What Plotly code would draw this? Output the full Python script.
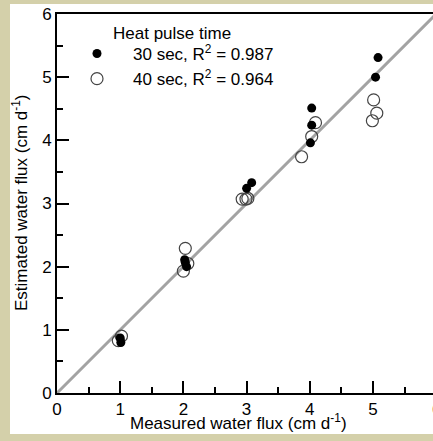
import plotly.graph_objects as go

# 30 sec (filled)
x30 = [1.00, 1.01, 2.02, 2.05, 2.03, 3.00, 3.08, 4.03, 4.03, 4.01, 5.08, 5.04]
y30 = [0.87, 0.80, 2.11, 2.00, 2.07, 3.24, 3.33, 4.51, 4.24, 3.96, 5.31, 5.00]
# 40 sec (open)
x40 = [0.97, 1.02, 2.03, 2.00, 2.07, 2.93, 2.99, 3.02, 3.87, 4.03, 4.09, 5.01, 5.06, 4.99]
y40 = [0.83, 0.90, 2.29, 1.93, 2.05, 3.07, 3.07, 3.08, 3.74, 4.06, 4.28, 4.64, 4.43, 4.31]
# 1:1 line
x11 = [0, 6]
y11 = [0, 6]

TAN = "#D4D0AA"
FONT = "Liberation Sans, Arial, sans-serif"
FS = 17

fig = go.Figure()
fig.add_trace(go.Scatter(x=x11, y=y11, mode="lines", line=dict(color="#A3A3A3", width=3),
                         showlegend=False, hoverinfo="skip"))
fig.add_trace(go.Scatter(x=x40, y=y40, mode="markers", name="40 sec, R<sup>2</sup> = 0.964",
                         marker=dict(symbol="circle-open", size=12, color="#444444", line=dict(width=1.2))))
fig.add_trace(go.Scatter(x=x30, y=y30, mode="markers", name="30 sec, R<sup>2</sup> = 0.987",
                         marker=dict(symbol="circle", size=9, color="black")))

W, H = 433, 441
L, R, T, B = 57, 0, 14, 48
pw, ph = W - L - R, H - T - B

def px2paper_x(px):
    return (px - L) / pw

def px2paper_y(py):
    return (H - B - py) / ph

tick_style = dict(tickmode="linear", tick0=0, dtick=1,
                  ticks="inside", ticklen=12, tickwidth=2, tickcolor="black",
                  showline=True, linecolor="black", linewidth=2,
                  showgrid=False, zeroline=False, tickfont=dict(size=FS),
                  minor=dict(tick0=0, dtick=0.5, ticks="inside", ticklen=6,
                             tickwidth=2, tickcolor="black", showgrid=False))

fig.update_layout(
    width=W, height=H,
    margin=dict(l=L, r=R, t=T, b=B),
    paper_bgcolor=TAN,
    plot_bgcolor="white",
    font=dict(family=FONT, size=FS, color="black"),
    showlegend=True,
    legend=dict(
        x=px2paper_x(61), y=px2paper_y(36), xanchor="left", yanchor="top",
        bgcolor="rgba(0,0,0,0)", traceorder="reversed",
        font=dict(size=FS), itemwidth=62, tracegroupgap=0,
    ),
    xaxis=dict(range=[0, pw / 63.2], mirror=True, **tick_style),
    yaxis=dict(range=[0, 6], mirror=False, **tick_style),
    shapes=[dict(type="rect", xref="paper", yref="paper", layer="below",
                 x0=px2paper_x(10), x1=px2paper_x(440), y0=px2paper_y(434), y1=px2paper_y(4),
                 fillcolor="white", line=dict(width=0))],
    annotations=[
        dict(text="Heat pulse time", xref="paper", yref="paper",
             x=px2paper_x(111), y=px2paper_y(33), xanchor="left", yanchor="middle",
             showarrow=False, font=dict(size=FS)),
        dict(text="Measured water flux (cm d<sup>-1</sup>)", xref="paper", yref="paper",
             x=px2paper_x(238), y=px2paper_y(422), xanchor="center", yanchor="middle",
             showarrow=False, font=dict(size=FS)),
        dict(text="Estimated water flux (cm d<sup>-1</sup>)", xref="paper", yref="paper",
             x=px2paper_x(20), y=px2paper_y(203), xanchor="center", yanchor="middle",
             textangle=-90, showarrow=False, font=dict(size=FS)),
        dict(text="6", xref="paper", yref="paper", x=px2paper_x(436.5), y=px2paper_y(409),
             xanchor="center", yanchor="middle", showarrow=False, font=dict(size=FS)),
    ],
)

fig.write_html("out.html", config={"displayModeBar": False},
               post_script="document.body.style.margin='0';document.body.style.overflow='hidden';")
